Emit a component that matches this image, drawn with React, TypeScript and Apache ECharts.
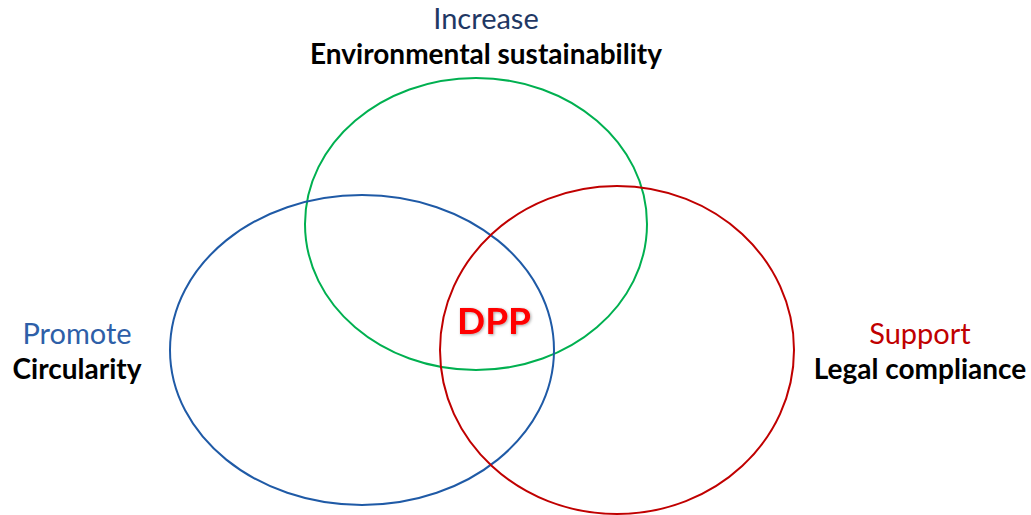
import React, { useEffect, useRef } from "react";
import * as echarts from "echarts";

// Sets of the Venn diagram
const setNames = ["Environmental sustainability", "Circularity", "Legal compliance"];
const setVerbs = ["Increase", "Promote", "Support"];
const setColors = ["#00B050", "#1F5AA6", "#C00000"];
const verbColors = ["#1F3864", "#2E5FA8", "#C00000"];
// Ellipse geometry in chart units: [cx, cy, rx, ry]
const ellipseCx = [476, 362, 617];
const ellipseCy = [224, 350, 350];
const ellipseRx = [171, 192, 177];
const ellipseRy = [146, 155, 164];
// Label anchor in chart units: [x, y]
const labelX = [486, 77, 920];
const labelY = [17, 332, 332];
const centerLabel = "DPP";
const centerPos = [494, 319];

const FONT = "Lato, 'Open Sans', sans-serif";

export default function App() {
  const ref = useRef<HTMLDivElement>(null);
  useEffect(() => {
    document.body.style.margin = "0";
    const chart = echarts.init(ref.current!, null, { renderer: "svg" });
    const ellipseData = setNames.map((_, i) => [ellipseCx[i], ellipseCy[i], ellipseRx[i], ellipseRy[i], i]);
    const labelData = setNames.map((_, i) => [labelX[i], labelY[i], i]);
    chart.setOption({
      animation: false,
      backgroundColor: "#ffffff",
      grid: { left: 0, right: 0, top: 0, bottom: 0 },
      xAxis: { type: "value", min: 0, max: 1031, show: false },
      yAxis: { type: "value", min: 0, max: 515, inverse: true, show: false },
      series: [
        {
          type: "custom",
          coordinateSystem: "cartesian2d",
          data: ellipseData,
          renderItem: (params: any, api: any) => {
            const c = api.coord([api.value(0), api.value(1)]);
            const s = api.size([api.value(2), api.value(3)]);
            const i = api.value(4);
            return {
              type: "ellipse",
              shape: { cx: c[0], cy: c[1], rx: s[0], ry: s[1] },
              style: { fill: "none", stroke: setColors[i], lineWidth: 2 },
            };
          },
        },
        {
          type: "custom",
          coordinateSystem: "cartesian2d",
          data: labelData,
          renderItem: (params: any, api: any) => {
            const c = api.coord([api.value(0), api.value(1)]);
            const i = api.value(2);
            return {
              type: "group",
              children: [
                {
                  type: "text",
                  x: c[0],
                  y: c[1],
                  style: {
                    text: setVerbs[i],
                    fill: verbColors[i],
                    font: `400 29px ${FONT}`,
                    align: "center",
                    verticalAlign: "middle",
                  },
                },
                {
                  type: "text",
                  x: c[0],
                  y: c[1] + 36,
                  style: {
                    text: setNames[i],
                    fill: "#000000",
                    font: `700 28px ${FONT}`,
                    align: "center",
                    verticalAlign: "middle",
                  },
                },
              ],
            };
          },
        },
        {
          type: "custom",
          coordinateSystem: "cartesian2d",
          data: [[centerPos[0], centerPos[1]]],
          renderItem: (params: any, api: any) => {
            const c = api.coord([api.value(0), api.value(1)]);
            return {
              type: "text",
              x: c[0],
              y: c[1],
              style: {
                text: centerLabel,
                fill: "#FF0000",
                font: `700 37px ${FONT}`,
                align: "center",
                verticalAlign: "middle",
                textShadowColor: "rgba(0,0,0,0.35)",
                textShadowBlur: 3,
                textShadowOffsetX: 1,
                textShadowOffsetY: 1,
              },
            };
          },
        },
      ],
    });
    return () => chart.dispose();
  }, []);
  return <div ref={ref} style={{ width: 1031, height: 515 }} />;
}
